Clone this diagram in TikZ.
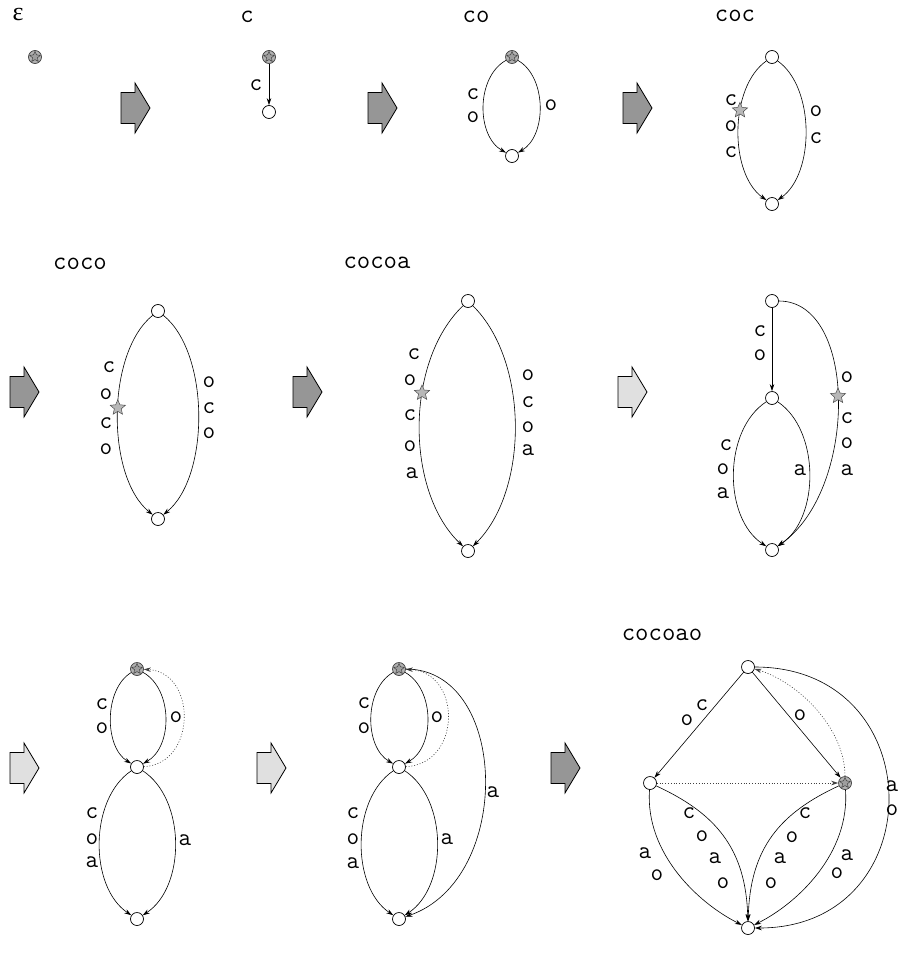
\documentclass[tikz,border=0pt]{standalone}
\usepackage{fontspec}
\usepackage{tikz}
\usetikzlibrary{shapes.geometric,arrows.meta}
\newfontfamily\greekfont{Liberation Serif}
\colorlet{dkarr}{black!41}
\colorlet{ltarr}{black!12}
\tikzset{
  st/.style={circle, draw, fill=white, minimum size=13pt, inner sep=0pt, line width=0.7pt},
  act/.style={st, draw=black!75, fill=black!30, path picture={
      \node[star, star points=5, star point ratio=2.1, draw=black!75, fill=black!38,
            line width=0.5pt, minimum size=11pt, inner sep=0pt]
            at (path picture bounding box.center) {};}},
  edstar/.style={star, star points=5, star point ratio=2.2, draw=black!70, fill=black!28,
                 line width=0.5pt, minimum size=16pt, inner sep=0pt},
  lbl/.style={font=\ttfamily\fontsize{24.5}{24.5}\selectfont, inner sep=0pt},
  ttl/.style={font=\ttfamily\fontsize{26}{26}\selectfont\addfontfeature{LetterSpace=8}, inner sep=0pt},
  ed/.style={-{Stealth[length=7pt,width=4.5pt]}, line width=0.6pt},
  sfx/.style={ed, draw=black!75, dash pattern=on 1pt off 1.8pt},
  fwd/.style={draw, line width=0.8pt, line join=miter},
}
\begin{document}
\begin{tikzpicture}[x=1pt, y=-1pt]
\useasboundingbox (0,0) rectangle (898,958);

% block arrows between the steps
\foreach \ax/\ay/\af in {121/108/dkarr, 368/108/dkarr, 623/108/dkarr,
                         10/392/dkarr, 293/392/dkarr, 618/392/ltarr,
                         10/768/ltarr, 257/768/ltarr, 551/768/dkarr} {
  \draw[fwd, fill=\af] (\ax,\ay-15.5) -- ++(14,0) -- ++(0,-9.5) -- ++(15,25)
        -- ++(-15,25) -- ++(0,-9.5) -- ++(-14,0) -- cycle;
}

% step: empty word
\node[font=\greekfont\fontsize{26}{26}\selectfont, inner sep=0pt] (t1) at (18,15) {ε};
\node[act] (e0) at (35,57) {};

% step: c
\node[ttl] (t2) at (247,17) {c};
\node[act] (c0) at (269,57) {};
\node[st] (c1) at (269,112) {};
\draw[ed] (c0) -- (c1);
\node[lbl] (cl1) at (256,85) {c};

% step: co
\node[ttl] (t3) at (476,17) {co};
\node[act] (o0) at (512,57) {};
\node[st] (o1) at (512,156) {};
\draw[ed] (o0) .. controls +(-36,20) and +(-36,-20) .. (o1);
\draw[ed] (o0) .. controls +(35,20) and +(35,-20) .. (o1);
\foreach \ch/\xx/\yy [count=\k] in {c/473/94, o/473/117, o/551/105}
  \node[lbl] (ol\k) at (\xx,\yy) {\ch};

% step: coc
\node[ttl] (t4) at (735,16) {coc};
\node[st] (k0) at (772,57) {};
\node[st] (k1) at (772,204) {};
\draw[ed] (k0) .. controls +(-43,30) and +(-43,-30) .. (k1) node[edstar, pos=.38] (k2) {};
\draw[ed] (k0) .. controls +(43,30) and +(43,-30) .. (k1);
\foreach \ch/\xx/\yy [count=\k] in {c/731/100, o/731/126, c/731/152, o/816/111, c/816/138}
  \node[lbl] (kl\k) at (\xx,\yy) {\ch};

% step: coco
\node[ttl] (t5) at (80,264) {coco};
\node[st] (m0) at (158,311) {};
\node[st] (m1) at (158,519) {};
\draw[ed] (m0) .. controls +(-52,42) and +(-52,-42) .. (m1) node[edstar, pos=.47] (m2) {};
\draw[ed] (m0) .. controls +(52,42) and +(52,-42) .. (m1);
\foreach \ch/\xx/\yy [count=\k] in {c/109/367, o/106/394, c/106/423, o/106/449,
                                    o/209/382, c/209/408, o/209/433}
  \node[lbl] (ml\k) at (\xx,\yy) {\ch};

% step: cocoa
\node[ttl] (t6) at (377,263) {cocoa};
\node[st] (n0) at (468,301) {};
\node[st] (n1) at (468,551) {};
\draw[ed] (n0) .. controls +(-63,60) and +(-63,-60) .. (n1) node[edstar, pos=.38] (n2) {};
\draw[ed] (n0) .. controls +(61,60) and +(61,-60) .. (n1);
\foreach \ch/\xx/\yy [count=\k] in {c/414/354, o/410/380, c/410/415, o/410/446, a/412/473,
                                    o/528/375, c/528/402, o/528/427, a/528/450}
  \node[lbl] (nl\k) at (\xx,\yy) {\ch};

% split of the edge
\node[st] (r0) at (772,301) {};
\node[st] (r1) at (772,398) {};
\node[st] (r2) at (772,550) {};
\draw[ed] (r0) -- (r1);
\draw[ed] (r1) .. controls +(-49,32) and +(-49,-32) .. (r2);
\draw[ed] (r1) .. controls +(48,32) and +(48,-32) .. (r2);
\draw[ed] (r0) .. controls +(86,0) and +(86,-60) .. (r2) node[edstar, pos=.48] (r3) {};
\foreach \ch/\xx/\yy [count=\k] in {c/760/331, o/760/355, c/726/445, o/723/469, a/723/493,
                                    a/800/470, o/847/377, c/847/418, o/847/443, a/847/470}
  \node[lbl] (rl\k) at (\xx,\yy) {\ch};

% suffix link added
\node[act] (u0) at (137,669) {};
\node[st] (u1) at (137,767) {};
\node[st] (u2) at (137,919) {};
\draw[ed] (u0) .. controls +(-33,20) and +(-33,-20) .. (u1);
\draw[ed] (u0) .. controls +(36,20) and +(36,-20) .. (u1);
\draw[sfx] (u1) .. controls +(60,-3) and +(60,3) .. (u0);
\draw[ed] (u1) .. controls +(-48,32) and +(-48,-32) .. (u2);
\draw[ed] (u1) .. controls +(49,32) and +(49,-32) .. (u2);
\foreach \ch/\xx/\yy [count=\k] in {c/102/704, o/102/728, o/176/717,
                                    c/92/813, o/92/839, a/92/862, a/185/840}
  \node[lbl] (ul\k) at (\xx,\yy) {\ch};

% leaf edge added
\node[act] (v0) at (399,669) {};
\node[st] (v1) at (399,767) {};
\node[st] (v2) at (399,919) {};
\draw[ed] (v0) .. controls +(-35,20) and +(-35,-20) .. (v1);
\draw[ed] (v0) .. controls +(36,20) and +(36,-20) .. (v1);
\draw[sfx] (v1) .. controls +(63,-3) and +(63,3) .. (v0);
\draw[ed] (v1) .. controls +(-48,32) and +(-48,-32) .. (v2);
\draw[ed] (v1) .. controls +(49,32) and +(49,-32) .. (v2);
\draw[ed] (v0) .. controls +(110,0) and +(115,-40) .. (v2);
\foreach \ch/\xx/\yy [count=\k] in {c/364/703, o/364/728, o/437/717,
                                    c/353/813, o/353/839, a/353/863, a/447/839, a/493/792}
  \node[lbl] (vl\k) at (\xx,\yy) {\ch};

% step: cocoao
\node[ttl] (t7) at (662,635) {cocoao};
\node[st] (w0) at (748,667) {};
\node[st] (w1) at (650,783) {};
\node[act] (w2) at (845,783) {};
\node[st] (w3) at (748,928) {};
\draw[ed] (w0) -- (w1);
\draw[ed] (w0) -- (w2);
\draw[sfx] (w1) -- (w2);
\draw[sfx] (w2) .. controls +(0,-55) and +(50,15) .. (w0);
\draw[ed] (w0) .. controls +(185,0) and +(185,0) .. (w3);
\draw[ed] (w1) .. controls +(-5,70) and +(-50,-25) .. (w3);
\draw[ed] (w1) .. controls +(65,30) and +(-2,-80) .. (w3);
\draw[ed] (w2) .. controls +(-65,30) and +(2,-80) .. (w3);
\draw[ed] (w2) .. controls +(5,70) and +(50,-25) .. (w3);
\foreach \ch/\xx/\yy [count=\k] in {c/702/705, o/687/720, o/800/715, a/892/786, o/892/810,
                                    a/645/853, o/657/875, c/689/813, o/702/836, a/715/858, o/723/883,
                                    c/805/813, o/792/837, a/780/858, o/771/883, a/847/855, o/837/873}
  \node[lbl] (wl\k) at (\xx,\yy) {\ch};
\end{tikzpicture}
\end{document}
